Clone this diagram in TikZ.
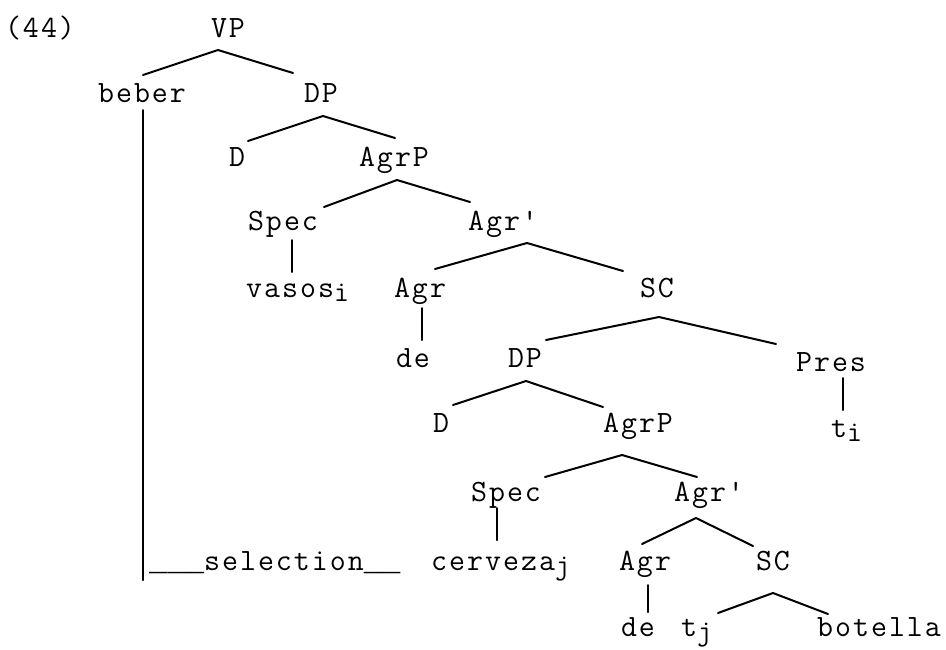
\documentclass[tikz,border=0pt]{standalone}
\usepackage{fontspec}
\newfontfamily\cour{Latin Modern Mono}[LetterSpace=6.5]
\newfontfamily\courU{Liberation Mono}
\newcommand\subs[1]{\raisebox{-3.5pt}{\fontsize{29}{29}\selectfont #1}}
\newcommand\uline[1]{{\courU\fontsize{30.5}{30.5}\selectfont #1}}
\begin{document}
\begin{tikzpicture}[x=1pt,y=-1pt,
  tx/.style={font=\cour\fontsize{31}{31}\selectfont, inner sep=0pt, text height=19pt, text depth=0pt},
  br/.style={line width=2pt, line cap=round, line join=round}]
\useasboundingbox[fill=white] (0,0) rectangle (946,649);
% rows (cap centres)
\def\rA{28}\def\rB{93}\def\rC{157}\def\rD{221}\def\rE{288}
\def\rF{358}\def\rG{423}\def\rH{492}\def\rI{561}\def\rJ{627}
% nodes
\node[tx] (ex) at (40,\rA) {(44)};
\node[tx] (VP) at (228,\rA) {VP};
\node[tx] (beber) at (142,\rB) {beber};
\node[tx] (DP1) at (321,\rB) {DP};
\node[tx] (D1) at (237,\rC) {D};
\node[tx] (AgrP1) at (394,\rC) {AgrP};
\node[tx] (Spec1) at (283,\rD) {Spec};
\node[tx] (Agrb1) at (503,\rD) {Agr'};
\node[tx,anchor=west] (vasos) at (246,\rE) {vasos\subs{i}};
\node[tx] (Agr1) at (420,\rE) {Agr};
\node[tx] (SC1) at (657,\rE) {SC};
\node[tx] (de1) at (413,\rF) {de};
\node[tx] (DP2) at (525,\rF) {DP};
\node[tx] (Pres) at (831,362) {Pres};
\node[tx] (D2) at (441,\rG) {D};
\node[tx] (AgrP2) at (638,\rG) {AgrP};
\node[tx,anchor=west] (ti) at (831,428) {t\subs{i}};
\node[tx] (Spec2) at (506,\rH) {Spec};
\node[tx] (Agrb2) at (709,\rH) {Agr'};
\node[tx,anchor=west] (cerveza) at (431,\rI) {cerveza\subs{j}};
\node[tx] (Agr2) at (645,\rI) {Agr};
\node[tx] (SC2) at (773,\rI) {SC};
\node[tx] (de2) at (638,\rJ) {de};
\node[tx,anchor=west] (tj) at (681,\rJ) {t\subs{j}};
\node[tx] (botella) at (879,\rJ) {botella};
\node[tx,anchor=west] (sel) at (149,\rI) {\uline{\_\_\_}selection\uline{\_\_}};
% branch coordinates
\coordinate (VPa) at (218,50);   \coordinate (VPl) at (143,75);   \coordinate (VPr) at (293,73);
\coordinate (DPa) at (323,116);  \coordinate (DPl) at (248,141);  \coordinate (DPr) at (395,138);
\coordinate (APa) at (397,180);  \coordinate (APl) at (324,207);  \coordinate (APr) at (470,202);
\coordinate (ABa) at (527,243);  \coordinate (ABl) at (435,269);  \coordinate (ABr) at (623,271);
\coordinate (SCa) at (659,317);  \coordinate (SCl) at (546,340);  \coordinate (SCr) at (776,344);
\coordinate (DQa) at (526,381);  \coordinate (DQl) at (453,405);  \coordinate (DQr) at (603,407);
\coordinate (AQa) at (622,455);  \coordinate (AQl) at (545,477);  \coordinate (AQr) at (697,477);
\coordinate (BQa) at (696,518);  \coordinate (BQl) at (642,544);  \coordinate (BQr) at (753,546);
\coordinate (SQa) at (773,593);  \coordinate (SQl) at (718,613);  \coordinate (SQr) at (828,614);
\draw[br] (VPl) -- (VPa) -- (VPr);
\draw[br] (DPl) -- (DPa) -- (DPr);
\draw[br] (APl) -- (APa) -- (APr);
\draw[br] (ABl) -- (ABa) -- (ABr);
\draw[br] (SCl) -- (SCa) -- (SCr);
\draw[br] (DQl) -- (DQa) -- (DQr);
\draw[br] (AQl) -- (AQa) -- (AQr);
\draw[br] (BQl) -- (BQa) -- (BQr);
\draw[br] (SQl) -- (SQa) -- (SQr);
% unary branches
\coordinate (selend) at (143,580);
\draw[br] (143,110) -- (selend);
\draw[br] (292,240) -- (292,272);
\draw[br] (422,308) -- (422,340);
\draw[br] (843,378) -- (843,410);
\draw[br] (497,508) -- (497,540);
\draw[br] (648,585) -- (648,612);
\end{tikzpicture}
\end{document}
